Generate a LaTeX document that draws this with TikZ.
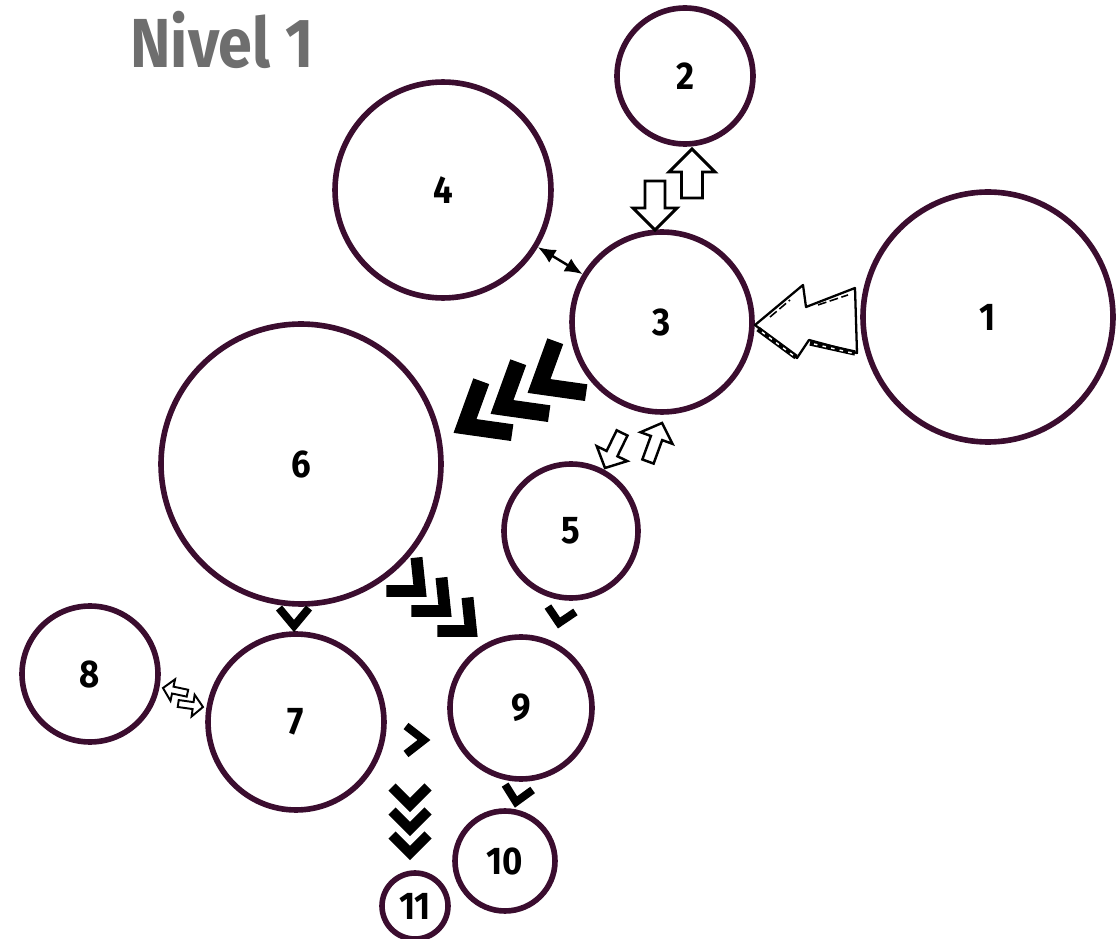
\documentclass[tikz,border=0pt]{standalone}
\usepackage{fontspec}
\setmainfont{Fira Sans}
\newfontfamily\titlefont{Fira Sans}[FakeStretch=0.88]
\newfontfamily\numfont{Fira Sans}[FakeStretch=0.9]
\usepackage{xcolor}
\usetikzlibrary{arrows.meta,calc}
\definecolor{plum}{RGB}{59,13,47}
\definecolor{titlegray}{RGB}{110,110,110}
\tikzset{
  pics/chevron/.style 2 args={code={\draw[line join=miter, line cap=butt] (-#1,-#2) -- (0,0) -- (-#1,#2);}},
  pics/hollowarrow/.style n args={4}{code={\draw[fill=white, line join=miter]
      (-#1,-#4) -- (-#2,-#4) -- (-#2,-#3) -- (0,0) -- (-#2,#3) -- (-#2,#4) -- (-#1,#4) -- cycle;}},
}

\begin{document}
\begin{tikzpicture}[
    x=0.02cm, y=-0.02cm,
    ball/.style={circle, draw=plum, line width=3.2pt, inner sep=0pt,
                 font=\numfont\fontsize{22}{24}\selectfont\bfseries},
    bigchev/.style={line width=9.6pt},
    midchev/.style={line width=6.8pt},
    smallchev/.style={line width=4.5pt},
]
\useasboundingbox (0,0) rectangle (1117,939);

% Title
\node[font={\titlefont\bfseries\fontsize{39.5}{42}\selectfont}, text=titlegray,
      anchor=base west, inner sep=0pt] (title) at (130,68) {Nivel 1};

% Circles
\node[ball, minimum size=5cm]    (n1)  at (988,317) {1};
\node[ball, minimum size=2.72cm] (n2)  at (685,76)  {2};
\node[ball, minimum size=3.6cm]  (n3)  at (662,322) {3};
\node[ball, minimum size=4.32cm] (n4)  at (443,190) {4};
\node[ball, minimum size=2.68cm] (n5)  at (571,531) {5};
\node[ball, minimum size=5.6cm]  (n6)  at (301,464) {6};
\node[ball, minimum size=3.52cm] (n7)  at (296,722) {7};
\node[ball, minimum size=2.72cm] (n8)  at (90,674)  {8};
\node[ball, minimum size=2.84cm] (n9)  at (521,708) {9};
\node[ball, minimum size=2cm]    (n10) at (505,861) {10};
\node[ball, minimum size=1.32cm] (n11) at (415,906) {11};

% --- 4 <-> 3 ---
\draw[{Latex[length=10pt,width=8.5pt]}-{Latex[length=10pt,width=8.5pt]}, line width=1.4pt] (n4) -- (n3);

% --- 2 <-> 3 ---
\pic[line width=1.7pt, rotate=-90] at (655,230) {hollowarrow={49}{22}{22}{10}};
\pic[line width=1.7pt, rotate=90]  at (692,149) {hollowarrow={49}{23}{23}{10.5}};

% --- 1 -> 3 ---
\draw[line width=1.3pt, line join=round, fill=white]
  (755,325) -- (803,285) -- (806,307) -- (855,288) -- (857,353) -- (809,340) -- (797,358) -- cycle;
\draw[line width=3pt] (758,329) -- (796,357);
\draw[line width=3pt] (810,343) -- (855,353);
\draw[white, line width=0.8pt, dash pattern=on 2pt off 3pt] (762,332) -- (794,356);
\draw[white, line width=0.8pt, dash pattern=on 2pt off 3pt] (814,344) -- (852,353);
\draw[line width=0.9pt, dash pattern=on 5pt off 2pt] (770,317) -- (790,300);
\draw[line width=0.9pt, dash pattern=on 5pt off 2pt] (818,305) -- (848,295);

% --- 3 -> 6 ---
\pic[bigchev, rotate=211] at (465,426) {chevron={37}{30}};
\pic[bigchev, rotate=211] at (502,407) {chevron={37}{30}};
\pic[bigchev, rotate=211] at (539,386) {chevron={37}{30}};

% --- 3 <-> 5 ---
\pic[line width=1.4pt, rotate=244] at (605,468) {hollowarrow={39}{16}{17}{6}};
\pic[line width=1.4pt, rotate=70]  at (662,423) {hollowarrow={41}{16}{17}{6}};

% --- 6 -> 9 ---
\pic[midchev, rotate=-42] at (420,591) {chevron={25}{22.5}};
\pic[midchev, rotate=-42] at (445,611) {chevron={25}{22.5}};
\pic[midchev, rotate=-42] at (471,631) {chevron={25}{22.5}};

% --- 6 -> 7, 5 -> 9, 7 -> 9, 9 -> 10 ---
\pic[smallchev, rotate=-90]  at (294,626) {chevron={18}{15}};
\pic[smallchev, rotate=-101] at (559,623) {chevron={14}{14}};
\pic[smallchev, rotate=0]    at (424,740) {chevron={18}{14}};
\pic[smallchev, rotate=-101] at (516,802) {chevron={15}{14}};

% --- 8 <-> 7 ---
\pic[line width=1.1pt, rotate=168] at (163,688) {hollowarrow={25}{10}{11}{3.5}};
\pic[line width=1.1pt, rotate=-8]  at (203,707) {hollowarrow={25}{10}{11}{3.5}};

% --- 7 -> 11 ---
\foreach \y in {805,829,853}
  \pic[line width=5.7pt, rotate=-90] at (410,\y) {chevron={18}{18}};
\end{tikzpicture}
\end{document}
